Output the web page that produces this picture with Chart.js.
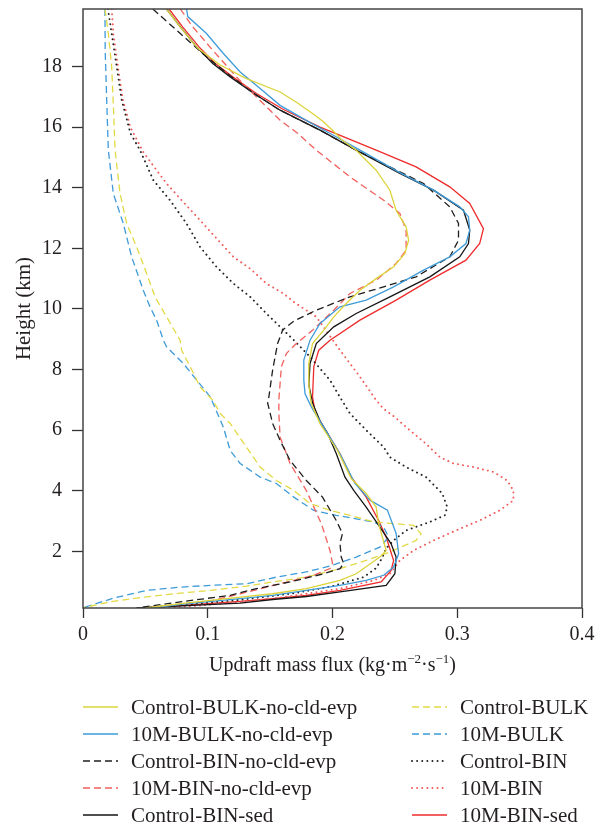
<!DOCTYPE html>
<html>
<head>
<meta charset="utf-8">
<script src="https://cdn.jsdelivr.net/npm/chart.js@4.4.0/dist/chart.umd.min.js"></script>
<style>
  html, body { margin: 0; padding: 0; background: #fff; }
  #wrap { width: 605px; height: 829px; }
</style>
</head>
<body>
<div id="wrap"><canvas id="c" width="605" height="829"></canvas></div>
<script>
// Updraft mass flux profiles: [flux (kg m-2 s-1), height (km)]
const ctlBulkNoEvp = [[0.067,19.9],[0.078,19.3],[0.092,18.6],[0.110,18.05],[0.131,17.6],[0.158,17.16],[0.172,16.8],[0.184,16.45],[0.192,16.2],[0.200,15.9],[0.207,15.6],[0.219,15.24],[0.235,14.58],[0.246,13.92],[0.251,13.25],[0.259,12.71],[0.261,12.27],[0.258,11.83],[0.249,11.39],[0.235,11.0],[0.222,10.62],[0.211,10.18],[0.201,9.74],[0.193,9.3],[0.184,8.86],[0.181,8.2],[0.181,7.5],[0.183,6.88],[0.190,6.21],[0.204,5.33],[0.215,4.4],[0.227,3.91],[0.235,3.46],[0.237,2.9],[0.243,2.03],[0.238,1.81],[0.219,1.26],[0.206,1.04],[0.179,0.77],[0.152,0.6],[0.126,0.49],[0.080,0.28],[0.050,0.13]];
const tenMBulkNoEvp = [[0.083,19.9],[0.084,19.65],[0.099,19.09],[0.1125,18.43],[0.126,17.82],[0.142,17.28],[0.158,16.72],[0.180,16.2],[0.200,15.75],[0.222,15.24],[0.254,14.5],[0.281,13.92],[0.302,13.37],[0.309,13.04],[0.310,12.6],[0.307,12.16],[0.294,11.72],[0.273,11.28],[0.249,10.73],[0.227,10.29],[0.206,10.07],[0.190,9.52],[0.182,8.97],[0.177,8.31],[0.177,7.65],[0.178,7.2],[0.183,6.77],[0.193,6.1],[0.206,5.22],[0.218,4.24],[0.230,3.69],[0.244,3.36],[0.251,2.59],[0.253,1.92],[0.249,1.48],[0.241,1.21],[0.227,1.04],[0.206,0.88],[0.179,0.71],[0.152,0.55],[0.126,0.44],[0.080,0.26],[0.055,0.13]];
const ctlBinNoEvp = [[0.056,19.9],[0.078,19.09],[0.099,18.32],[0.118,17.7],[0.137,17.11],[0.158,16.56],[0.190,15.9],[0.219,15.24],[0.246,14.69],[0.273,14.14],[0.294,13.37],[0.301,12.82],[0.301,12.27],[0.294,11.72],[0.267,11.06],[0.241,10.73],[0.214,10.40],[0.187,9.96],[0.169,9.6],[0.160,9.3],[0.156,8.86],[0.152,7.98],[0.149,7.1],[0.148,6.9],[0.152,6.22],[0.158,5.66],[0.166,5.0],[0.179,4.34],[0.192,3.79],[0.203,3.02],[0.208,2.59],[0.206,2.26],[0.207,1.81],[0.209,1.6],[0.206,1.43],[0.193,1.26],[0.166,0.99],[0.139,0.77],[0.118,0.55],[0.078,0.33],[0.043,0.13]];
const tenMBinNoEvp = [[0.078,19.9],[0.088,19.31],[0.104,18.54],[0.123,17.66],[0.139,17.0],[0.158,16.23],[0.172,15.8],[0.187,15.24],[0.214,14.36],[0.241,13.59],[0.254,13.15],[0.259,12.6],[0.259,11.94],[0.251,11.5],[0.235,10.95],[0.214,10.51],[0.201,9.96],[0.184,9.30],[0.171,8.86],[0.163,8.53],[0.159,8.09],[0.157,7.0],[0.157,6.55],[0.158,5.77],[0.166,4.9],[0.179,4.01],[0.191,2.92],[0.198,2.03],[0.200,1.6],[0.198,1.43],[0.185,1.21],[0.158,0.93],[0.126,0.6],[0.104,0.38],[0.051,0.13]];
const ctlBinSed = [[0.067,19.9],[0.078,19.31],[0.091,18.65],[0.104,18.1],[0.118,17.66],[0.137,17.11],[0.158,16.56],[0.190,15.9],[0.219,15.24],[0.254,14.47],[0.281,13.92],[0.305,13.26],[0.310,12.6],[0.309,12.16],[0.302,11.72],[0.278,11.06],[0.246,10.40],[0.219,9.85],[0.201,9.41],[0.187,8.86],[0.182,8.2],[0.181,7.5],[0.184,6.9],[0.190,6.3],[0.196,5.9],[0.203,5.23],[0.210,4.45],[0.217,4.01],[0.227,3.46],[0.238,2.8],[0.247,2.25],[0.251,1.81],[0.250,1.26],[0.243,0.88],[0.206,0.66],[0.179,0.51],[0.152,0.41],[0.126,0.29],[0.043,0.13]];
const ctlBulk = [[0.0176,19.9],[0.0203,19.09],[0.023,18.0],[0.0245,16.56],[0.0257,15.24],[0.0297,13.81],[0.035,12.82],[0.043,12.05],[0.051,11.17],[0.0577,10.40],[0.067,9.74],[0.0778,8.97],[0.079,8.64],[0.086,8.09],[0.094,7.42],[0.104,6.99],[0.110,6.55],[0.118,6.22],[0.131,5.44],[0.142,4.78],[0.155,4.34],[0.169,4.01],[0.182,3.58],[0.198,3.35],[0.214,3.19],[0.233,2.97],[0.265,2.86],[0.271,2.58],[0.267,2.36],[0.246,1.98],[0.227,1.70],[0.206,1.43],[0.179,1.15],[0.152,0.99],[0.131,0.85],[0.104,0.72],[0.078,0.62],[0.051,0.5],[0.024,0.35],[0.0,0.14]];
const tenMBulk = [[0.0176,19.9],[0.0178,18.5],[0.019,16.9],[0.0203,15.24],[0.0243,13.81],[0.0323,12.82],[0.039,11.72],[0.0483,10.62],[0.0537,10.07],[0.059,9.63],[0.0644,8.97],[0.067,8.75],[0.0804,8.2],[0.102,7.1],[0.1125,6.1],[0.118,5.33],[0.126,4.9],[0.142,4.45],[0.155,4.24],[0.169,3.79],[0.185,3.35],[0.203,3.19],[0.233,2.97],[0.241,2.80],[0.245,2.47],[0.238,2.14],[0.219,1.81],[0.200,1.54],[0.179,1.32],[0.155,1.15],[0.131,0.93],[0.104,0.88],[0.078,0.82],[0.051,0.71],[0.024,0.45],[0.0,0.14]];
const ctlBin = [[0.020,19.9],[0.023,19.09],[0.027,18.0],[0.031,16.9],[0.038,15.8],[0.0457,15.24],[0.0564,14.25],[0.0697,13.59],[0.083,12.82],[0.0938,12.05],[0.107,11.39],[0.1205,10.84],[0.134,10.40],[0.147,9.85],[0.158,9.41],[0.169,8.97],[0.182,8.42],[0.198,7.65],[0.206,7.09],[0.214,6.55],[0.227,6.0],[0.241,5.44],[0.246,5.11],[0.259,4.78],[0.275,4.45],[0.288,3.91],[0.292,3.46],[0.290,3.19],[0.278,2.97],[0.259,2.69],[0.249,2.36],[0.243,2.1],[0.240,1.8],[0.235,1.45],[0.225,1.15],[0.200,0.85],[0.170,0.62],[0.126,0.4],[0.080,0.24],[0.045,0.13]];
const tenMBin = [[0.023,19.9],[0.0243,19.09],[0.028,18.0],[0.032,16.9],[0.038,16.0],[0.0483,15.18],[0.057,14.69],[0.067,14.14],[0.079,13.59],[0.0938,12.93],[0.1205,11.72],[0.134,11.33],[0.147,10.84],[0.161,10.5],[0.169,10.23],[0.187,9.74],[0.206,8.64],[0.222,7.76],[0.235,6.99],[0.241,6.7],[0.250,6.43],[0.259,6.1],[0.275,5.55],[0.286,5.11],[0.297,4.9],[0.313,4.78],[0.329,4.62],[0.340,4.34],[0.345,4.01],[0.345,3.68],[0.334,3.35],[0.318,3.02],[0.299,2.69],[0.281,2.36],[0.265,2.03],[0.254,1.7],[0.246,1.26],[0.233,1.04],[0.206,0.77],[0.179,0.60],[0.152,0.44],[0.126,0.33],[0.090,0.2],[0.060,0.13]];
const tenMBinSed = [[0.069,19.9],[0.080,19.3],[0.093,18.65],[0.106,18.1],[0.120,17.66],[0.139,17.11],[0.160,16.6],[0.190,16.0],[0.235,15.24],[0.267,14.69],[0.294,14.03],[0.310,13.48],[0.321,12.65],[0.318,12.16],[0.307,11.61],[0.278,10.95],[0.251,10.29],[0.222,9.63],[0.198,8.97],[0.189,8.64],[0.185,8.09],[0.184,7.1],[0.186,6.6],[0.193,6.1],[0.206,5.22],[0.215,4.45],[0.227,3.79],[0.237,3.02],[0.243,2.47],[0.249,1.70],[0.247,1.37],[0.239,0.99],[0.206,0.71],[0.179,0.55],[0.152,0.44],[0.126,0.35],[0.051,0.13]];

const seriesNames = ['Control-BULK-no-cld-evp','10M-BULK-no-cld-evp','Control-BIN-no-cld-evp','10M-BIN-no-cld-evp','Control-BIN-sed','Control-BULK','10M-BULK','Control-BIN','10M-BIN','10M-BIN-sed'];
const seriesData = [ctlBulkNoEvp, tenMBulkNoEvp, ctlBinNoEvp, tenMBinNoEvp, ctlBinSed, ctlBulk, tenMBulk, ctlBin, tenMBin, tenMBinSed];

const xTickValues = [0, 0.1, 0.2, 0.3, 0.4];
const yTickValues = [2, 4, 6, 8, 10, 12, 14, 16, 18];

// line styles per series
const SOLID = [], DASH = [7, 4], DOT = [0.1, 5];
const styles = [
  { color: '#dcd43a', dash: SOLID },
  { color: '#3e9bd8', dash: SOLID },
  { color: '#1e1e1e', dash: DASH },
  { color: '#f1605c', dash: DASH },
  { color: '#151515', dash: SOLID },
  { color: '#e2da45', dash: DASH },
  { color: '#3e9bd8', dash: DASH },
  { color: '#222222', dash: DOT },
  { color: '#f25a5a', dash: DOT },
  { color: '#ee2b2b', dash: SOLID }
];

const SERIF = "'Liberation Serif', 'Times New Roman', serif";
const TEXT = '#231f20';

const datasets = seriesData.map((s, i) => ({
  label: seriesNames[i],
  data: s.map(([x, y]) => ({ x, y })),
  showLine: true,
  pointRadius: 0,
  borderColor: styles[i].color,
  borderWidth: styles[i].dash === DOT ? 1.9 : 1.3,
  borderDash: styles[i].dash,
  borderCapStyle: styles[i].dash === DOT ? 'round' : 'butt',
  tension: 0,
  fill: false
}));

// frame, x-axis title with superscripts, and a two-column legend
const decorations = {
  id: 'decorations',
  afterDatasetsDraw(chart) {
    const { ctx, chartArea: a } = chart;
    ctx.save();
    ctx.strokeStyle = '#444';
    ctx.lineWidth = 1.5;
    ctx.setLineDash([]);
    ctx.strokeRect(a.left, a.top, a.right - a.left, a.bottom - a.top);
    ctx.restore();
  },
  afterDraw(chart) {
    const { ctx, chartArea: a } = chart;
    ctx.save();
    ctx.fillStyle = TEXT;
    ctx.textBaseline = 'alphabetic';
    // x-axis title
    const parts = [
      ['Updraft mass flux (kg·m', 20, 0],
      ['\u22122', 13, -8],
      ['·s', 20, 0],
      ['\u22121', 13, -8],
      [')', 20, 0]
    ];
    let total = 0;
    parts.forEach(p => { ctx.font = p[1] + 'px ' + SERIF; total += ctx.measureText(p[0]).width; });
    let x = (a.left + a.right) / 2 - total / 2;
    const base = 671;
    parts.forEach(p => {
      ctx.font = p[1] + 'px ' + SERIF;
      ctx.fillText(p[0], x, base + p[2]);
      x += ctx.measureText(p[0]).width;
    });
    // legend
    ctx.font = '21px ' + SERIF;
    ctx.textBaseline = 'middle';
    chart.data.datasets.forEach((ds, i) => {
      const col = Math.floor(i / 5), row = i % 5;
      const x0 = col === 0 ? 83 : 412;
      const y = 707 + row * 27;
      ctx.strokeStyle = ds.borderColor;
      ctx.lineWidth = ds.borderWidth;
      ctx.lineCap = ds.borderCapStyle;
      ctx.setLineDash(ds.borderDash);
      ctx.beginPath();
      ctx.moveTo(x0, y);
      ctx.lineTo(x0 + 35, y);
      ctx.stroke();
      ctx.fillText(ds.label, x0 + 48, y + 1);
    });
    ctx.restore();
  }
};

new Chart(document.getElementById('c'), {
  type: 'scatter',
  data: { datasets },
  plugins: [decorations],
  options: {
    responsive: false,
    animation: false,
    devicePixelRatio: 1,
    layout: { padding: { left: 0, right: 23, top: 9, bottom: 181 } },
    plugins: { legend: { display: false }, tooltip: { enabled: false } },
    scales: {
      x: {
        type: 'linear',
        min: 0,
        max: 0.4,
        afterBuildTicks: s => { s.ticks = xTickValues.map(v => ({ value: v })); },
        afterFit: s => { s.height = 40; s.paddingLeft = 0; s.paddingRight = 0; },
        border: { display: false },
        grid: { drawOnChartArea: false, drawTicks: true, tickLength: 10, tickColor: '#333', tickWidth: 1.3 },
        ticks: {
          padding: 5,
          color: TEXT,
          font: { family: SERIF, size: 20 },
          callback: v => String(v)
        }
      },
      y: {
        type: 'linear',
        min: 0.13,
        max: 19.9,
        afterBuildTicks: s => { s.ticks = yTickValues.map(v => ({ value: v })); },
        afterFit: s => { s.width = 83; s.paddingTop = 0; s.paddingBottom = 0; },
        border: { display: false },
        grid: { drawOnChartArea: false, drawTicks: true, tickLength: 11, tickColor: '#333', tickWidth: 1.3 },
        ticks: {
          padding: 10,
          color: TEXT,
          font: { family: SERIF, size: 20 },
          callback: v => String(v)
        },
        title: {
          display: true,
          text: 'Height (km)',
          color: TEXT,
          font: { family: SERIF, size: 21 },
          padding: { top: 12, bottom: 0 }
        }
      }
    }
  }
});
</script>
</body>
</html>
